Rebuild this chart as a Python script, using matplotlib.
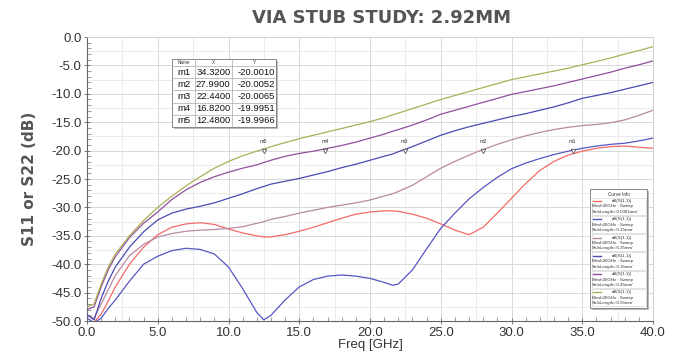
import numpy as np
import matplotlib
matplotlib.use("Agg")
import matplotlib.pyplot as plt
from matplotlib.ticker import MultipleLocator, FormatStrFormatter
from matplotlib.patches import Rectangle
from matplotlib.lines import Line2D

# ---------------- data ----------------
freq = [0, 0.5, 1, 1.5, 2, 3, 4, 5, 6, 7, 8, 9, 10, 11, 12, 12.5, 13, 14, 15, 16, 17, 18, 19,
        20, 21, 21.6, 22, 23, 24, 25, 26, 27, 28, 29, 30, 31, 32, 33, 34, 35, 36, 37, 38, 39, 40]

s_0001 = [-50.5, -50.2, -48.8, -46.5, -44.0, -40.0, -37.0, -34.8, -33.5, -32.9, -32.7, -33.0, -33.8,
          -34.5, -35.0, -35.2, -35.2, -34.8, -34.2, -33.5, -32.7, -31.9, -31.2, -30.8, -30.6, -30.6,
          -30.7, -31.2, -31.9, -32.9, -34.0, -34.8, -33.5, -31.0, -28.4, -25.8, -23.5, -21.9, -20.8,
          -20.1, -19.6, -19.3, -19.2, -19.4, -19.6]
s_015 = [-49.5, -50.3, -49.5, -47.8, -46.3, -43.0, -40.0, -38.6, -37.6, -37.2, -37.4, -38.2, -40.5,
         -44.3, -48.5, -49.8, -49.0, -46.3, -44.0, -42.7, -42.1, -41.9, -42.1, -42.5, -43.2, -43.7,
         -43.5, -41.0, -37.3, -33.7, -31.0, -28.5, -26.5, -24.7, -23.2, -22.2, -21.4, -20.7, -20.1,
         -19.6, -19.2, -18.9, -18.7, -18.3, -17.8]
s_025 = [-49.0, -49.5, -47.0, -44.5, -42.0, -38.5, -36.5, -35.2, -34.6, -34.2, -34.0, -33.9, -33.7,
         -33.4, -32.8, -32.5, -32.1, -31.6, -31.0, -30.5, -30.0, -29.6, -29.2, -28.7, -28.0, -27.6,
         -27.2, -26.1, -24.6, -23.1, -21.9, -20.8, -19.8, -18.9, -18.1, -17.4, -16.8, -16.3, -15.9,
         -15.6, -15.4, -15.1, -14.6, -13.8, -12.9]
s_035 = [-48.9, -49.8, -46.0, -43.0, -40.5, -37.0, -34.3, -32.2, -31.0, -30.3, -29.8, -29.2, -28.4,
         -27.6, -26.7, -26.3, -25.9, -25.4, -24.9, -24.3, -23.7, -23.0, -22.4, -21.7, -21.0, -20.6,
         -20.2, -19.3, -18.3, -17.3, -16.5, -15.8, -15.2, -14.6, -14.0, -13.5, -12.9, -12.3, -11.6,
         -10.8, -10.3, -9.8, -9.2, -8.6, -8.0]
s_045 = [-48.0, -47.5, -44.0, -41.0, -38.7, -35.3, -32.8, -30.8, -28.6, -26.9, -25.6, -24.6, -23.8,
         -23.1, -22.5, -22.1, -21.7, -21.0, -20.5, -20.1, -19.6, -19.1, -18.5, -17.8, -17.1, -16.6,
         -16.3, -15.5, -14.6, -13.6, -12.9, -12.2, -11.5, -10.8, -10.1, -9.6, -9.1, -8.6, -8.0,
         -7.4, -6.8, -6.2, -5.5, -4.9, -4.2]
s_055 = [-47.5, -47.0, -43.5, -40.5, -38.2, -35.0, -32.3, -30.0, -28.0, -26.2, -24.6, -23.1, -21.9,
         -20.9, -20.1, -19.7, -19.3, -18.6, -17.9, -17.3, -16.7, -16.1, -15.5, -14.9, -14.2, -13.7,
         -13.4, -12.6, -11.8, -11.0, -10.3, -9.6, -8.9, -8.2, -7.5, -7.0, -6.5, -6.0, -5.5, -4.9,
         -4.3, -3.7, -3.0, -2.4, -1.7]

series = [s_0001, s_015, s_025, s_035, s_045, s_055]
stub_labels = ["0.0001mm", "0.15mm", "0.25mm", "0.35mm", "0.45mm", "0.55mm"]
colors = ["#f26a6a", "#5656c2", "#b88aa2", "#4a4ab2", "#8e509c", "#acae58"]

marker_names = ["m1", "m2", "m3", "m4", "m5"]
marker_x = [34.32, 27.99, 22.44, 16.82, 12.48]
marker_y = [-20.0010, -20.0052, -20.0065, -19.9951, -19.9966]

title = "VIA STUB STUDY: 2.92MM"

# ---------------- figure ----------------
W, H = 683, 351
fig = plt.figure(figsize=(W / 100, H / 100), dpi=100)
fig.patch.set_facecolor("white")

def fx(px):
    return px / W

def fy(py):
    return 1 - py / H

ax = fig.add_axes([fx(87), fy(321), fx(653) - fx(87), fy(37) - fy(321)])
ax.set_xlim(0, 40)
ax.set_ylim(-50, 0)

# faint grid
for v in np.arange(0, 40.01, 2.5):
    ax.axvline(v, color="#ebebeb" if v % 5 else "#d9d9d9", lw=0.7, zorder=0)
for v in np.arange(-50, 0.01, 2.5):
    ax.axhline(v, color="#ebebeb" if v % 5 else "#d9d9d9", lw=0.7, zorder=0)

for s, c in zip(series, colors):
    ax.plot(freq, s, color=c, lw=0.9, zorder=3)

# markers
for n, mx, my in zip(marker_names, marker_x, marker_y):
    ax.plot([mx], [my], marker="v", ms=3.2, mfc="white", mec="#555555", mew=0.6, zorder=5)
    ax.annotate(n, (mx, my), xytext=(0, 4.5), textcoords="offset points",
                ha="center", va="bottom", fontsize=3.8, color="#333333",
                family="Liberation Sans", zorder=6)

ax.xaxis.set_major_locator(MultipleLocator(5))
ax.xaxis.set_minor_locator(MultipleLocator(1))
ax.yaxis.set_major_locator(MultipleLocator(5))
ax.yaxis.set_minor_locator(MultipleLocator(1))
ax.xaxis.set_major_formatter(FormatStrFormatter("%.1f"))
ax.yaxis.set_major_formatter(FormatStrFormatter("%.1f"))
ax.tick_params(axis="both", which="major", direction="inout", length=5, width=0.7,
               color="#777777", labelsize=9.5, labelcolor="#333333", pad=1.5)
ax.tick_params(axis="both", which="minor", direction="in", length=3, width=0.6, color="#888888")
for lab in ax.get_xticklabels() + ax.get_yticklabels():
    lab.set_family("Liberation Sans")

for side in ["left", "bottom"]:
    ax.spines[side].set_color("#666666")
    ax.spines[side].set_linewidth(0.8)
for side in ["top", "right"]:
    ax.spines[side].set_color("#d0d0d0")
    ax.spines[side].set_linewidth(0.7)

ax.set_xlabel("Freq [GHz]", fontsize=9.5, color="#333333", family="Liberation Sans", labelpad=0)
fig.text(fx(30), fy(179), "S11 or S22 (dB)", rotation=90, ha="center", va="center",
         fontsize=11, fontweight="bold", color="#555555", family="DejaVu Sans")
fig.text(fx(381), fy(18), title, ha="center", va="center", fontsize=13,
         fontweight="bold", color="#555555", family="DejaVu Sans")

# ---------------- marker table ----------------
tl, tr, tt, tb = 172, 276, 59, 127
fig.add_artist(Rectangle((fx(tl + 2), fy(tb + 2)), fx(tr) - fx(tl), fy(tt) - fy(tb),
                         transform=fig.transFigure, facecolor="#bbbbbb", edgecolor="none", zorder=8))
fig.add_artist(Rectangle((fx(tl), fy(tb)), fx(tr) - fx(tl), fy(tt) - fy(tb),
                         transform=fig.transFigure, facecolor="white", edgecolor="#777777",
                         lw=0.6, zorder=9))
col_edges = [tl, 195, 232, tr]
hdr_b = 66
row_h = (tb - hdr_b) / len(marker_names)
for cx in col_edges[1:-1]:
    fig.add_artist(Line2D([fx(cx), fx(cx)], [fy(tt), fy(tb)], transform=fig.transFigure,
                          color="#aaaaaa", lw=0.5, zorder=10))
for i in range(len(marker_names)):
    yy = hdr_b + i * row_h
    fig.add_artist(Line2D([fx(tl), fx(tr)], [fy(yy), fy(yy)], transform=fig.transFigure,
                          color="#aaaaaa", lw=0.5, zorder=10))
hdrs = ["Name", "X", "Y"]
for j, h in enumerate(hdrs):
    fig.text(fx((col_edges[j] + col_edges[j + 1]) / 2), fy((tt + hdr_b) / 2), h,
             ha="center", va="center", fontsize=3.3, color="#333333",
             family="Liberation Sans", zorder=11)
for i, (n, mx, my) in enumerate(zip(marker_names, marker_x, marker_y)):
    yc = hdr_b + (i + 0.5) * row_h
    fig.text(fx(177), fy(yc), n, ha="left", va="center", fontsize=6.8,
             color="#111111", family="Liberation Sans", zorder=11)
    fig.text(fx(230.5), fy(yc), f"{mx:.4f}", ha="right", va="center", fontsize=6.8,
             color="#111111", family="Liberation Sans", zorder=11)
    fig.text(fx(275), fy(yc), f"{my:.4f}", ha="right", va="center", fontsize=6.8,
             color="#111111", family="Liberation Sans", zorder=11)

# ---------------- curve info legend ----------------
ll, lr, lt, lb = 590, 647, 189, 308
fig.add_artist(Rectangle((fx(ll + 2), fy(lb + 2)), fx(lr) - fx(ll), fy(lt) - fy(lb),
                         transform=fig.transFigure, facecolor="#bbbbbb", edgecolor="none", zorder=8))
fig.add_artist(Rectangle((fx(ll), fy(lb)), fx(lr) - fx(ll), fy(lt) - fy(lb),
                         transform=fig.transFigure, facecolor="white", edgecolor="#777777",
                         lw=0.6, zorder=9))
fig.text(fx((ll + lr) / 2), fy(194), "Curve Info", ha="center", va="center", fontsize=3.4,
         color="#333333", family="Liberation Sans", zorder=11)
ent_top = 197.5
ent_h = (lb - 1 - ent_top) / len(stub_labels)
for k, (lab, c) in enumerate(zip(stub_labels, colors)):
    y0 = ent_top + k * ent_h
    fig.add_artist(Rectangle((fx(ll + 1.5), fy(y0 + ent_h - 0.8)), fx(lr - 1.5) - fx(ll + 1.5),
                             fy(y0) - fy(y0 + ent_h - 0.8), transform=fig.transFigure,
                             facecolor="none", edgecolor="#cccccc", lw=0.4, zorder=10))
    fig.add_artist(Line2D([fx(592.5), fx(601)], [fy(y0 + 3.5), fy(y0 + 3.5)],
                          transform=fig.transFigure, color=c, lw=1.0, zorder=11))
    fig.text(fx(622), fy(y0 + 3.5), "dB(S(1,1))", ha="center", va="center", fontsize=3.2,
             color="#333333", family="Liberation Sans", zorder=11)
    fig.text(fx(592), fy(y0 + 9), "Mesh30GHz : Sweep", ha="left", va="center", fontsize=3.2,
             color="#333333", family="Liberation Sans", zorder=11)
    fig.text(fx(592), fy(y0 + 14.5), f"StubLength='{lab}'", ha="left", va="center",
             fontsize=3.2, color="#333333", family="Liberation Sans", zorder=11)

fig.savefig("out.png", dpi=100, facecolor="white")
